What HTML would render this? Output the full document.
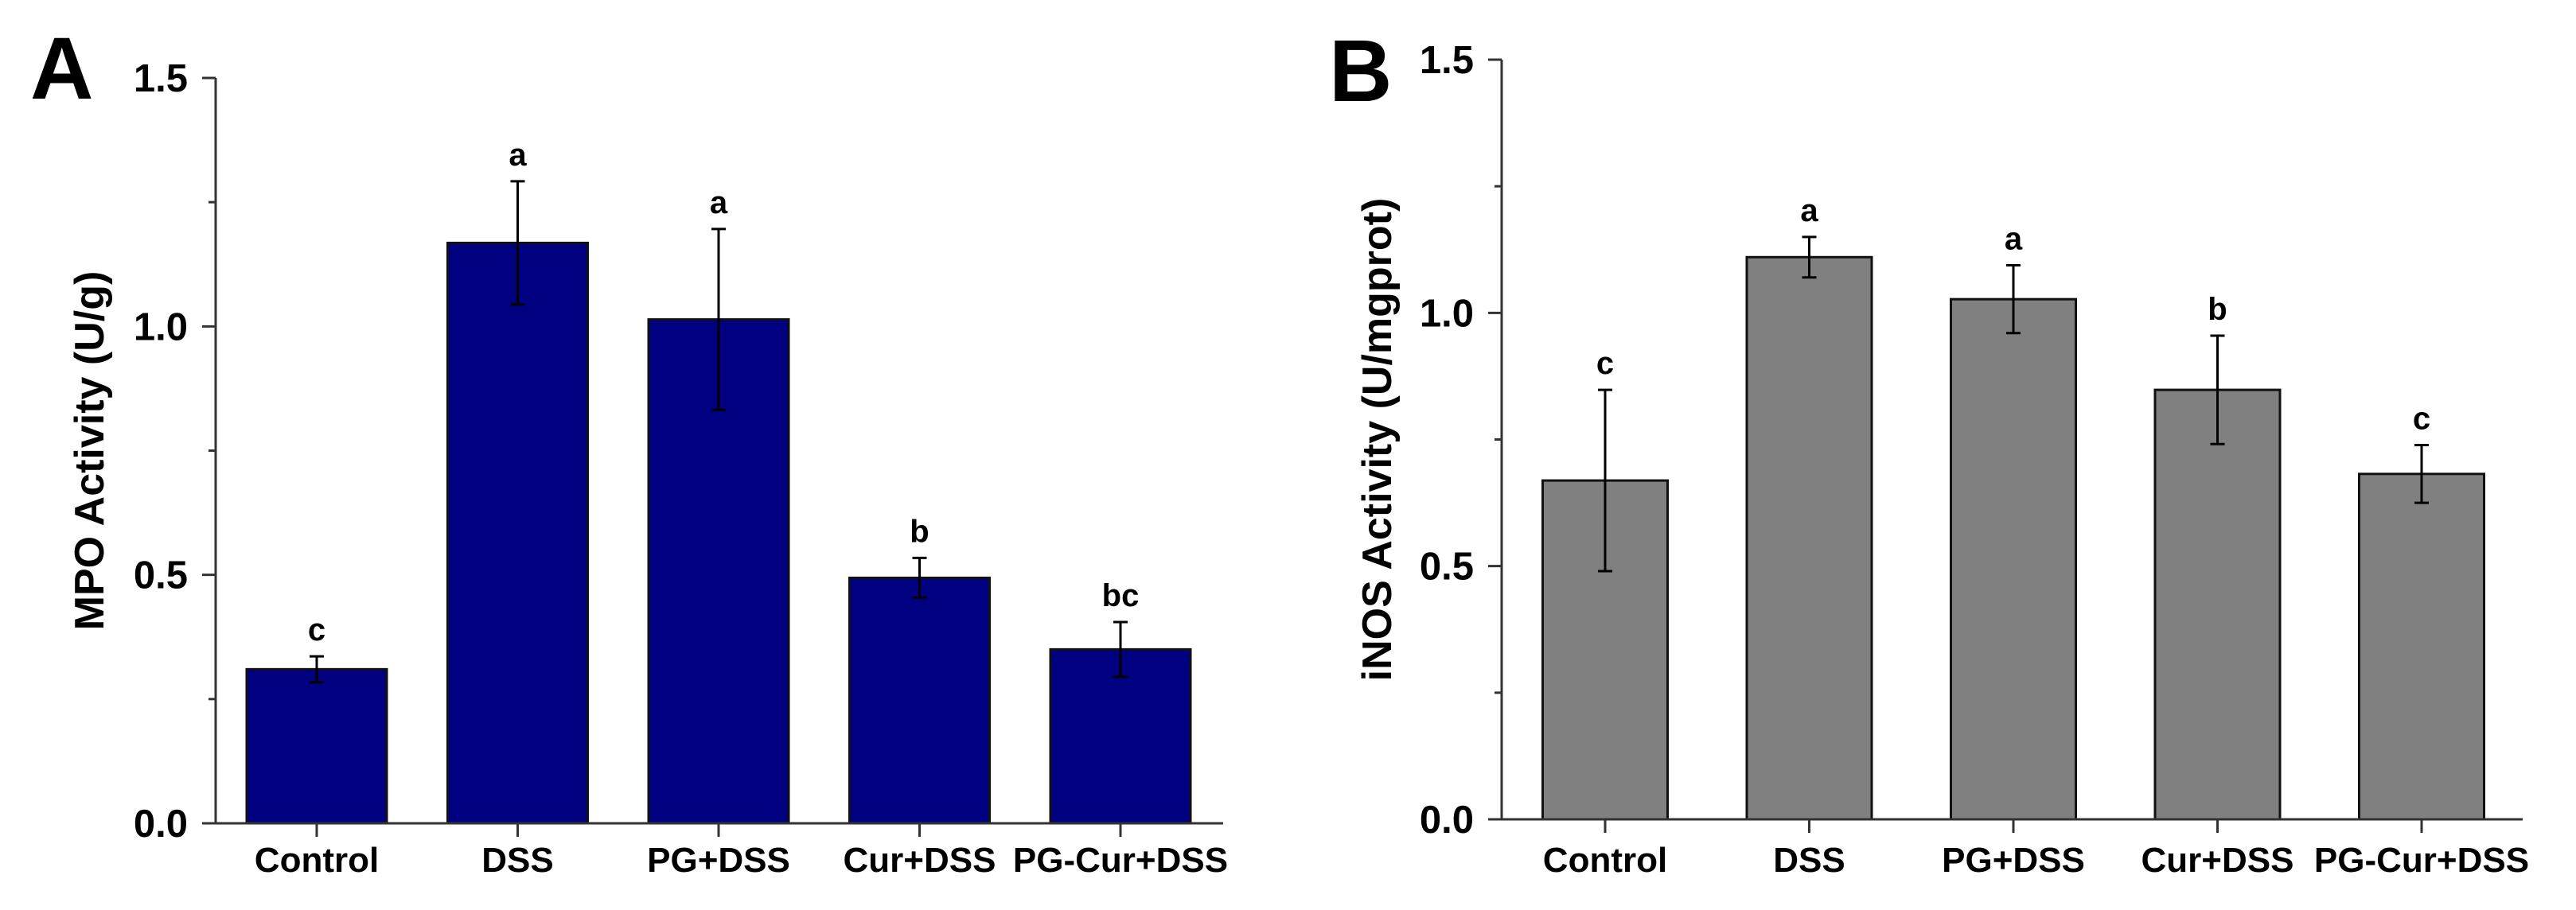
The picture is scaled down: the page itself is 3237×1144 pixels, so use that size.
<!DOCTYPE html>
<html><head><meta charset="utf-8"><style>
html,body{margin:0;padding:0;background:#fff;}
svg{display:block;font-family:"Liberation Sans",Arial,sans-serif;font-weight:bold;}
</style></head><body>
<svg id="chart" width="3237" height="1144" viewBox="0 0 3237 1144" xmlns="http://www.w3.org/2000/svg"></svg>
<script>
const categories = ["Control","DSS","PG+DSS","Cur+DSS","PG-Cur+DSS"];
const mpoValues = [0.31, 1.168, 1.014, 0.494, 0.350];
const mpoErrors = [0.026, 0.124, 0.182, 0.04, 0.055];
const mpoLetters = ["c","a","a","b","bc"];
const inosValues = [0.669, 1.110, 1.027, 0.848, 0.682];
const inosErrors = [0.179, 0.040, 0.067, 0.107, 0.057];
const inosLetters = ["c","a","a","b","c"];
const yTicks = ["0.0","0.5","1.0","1.5"];
const yMinor = [0.25, 0.75, 1.25];

const NS = "http://www.w3.org/2000/svg";
const svg = document.getElementById("chart");
function mk(tag, attrs, parent){
  const e = document.createElementNS(NS, tag);
  for (const k in attrs) e.setAttribute(k, attrs[k]);
  (parent||svg).appendChild(e);
  return e;
}

function panel(cfg){
  const g = mk("g", {});
  
  
  const y = v => cfg.y0 - (v/1.5)*(cfg.y0-cfg.y15);
  const x = i => cfg.c0 + i*cfg.step;
  cfg.values.forEach((v,i)=>{
    const r = mk("rect", {x:x(i)-cfg.bw/2, y:y(v), width:cfg.bw, height:y(0)-y(v), fill:cfg.fill, stroke:"#111", "stroke-width":3}, g);
    
    
  });
  cfg.values.forEach((v,i)=>{
    const e = cfg.errors[i], cx = x(i);
    const eg = mk("g", {stroke:"#000","stroke-width":3}, g);
    
    
    mk("line", {x1:cx, x2:cx, y1:y(v+e), y2:y(v-e)}, eg);
    mk("line", {x1:cx-9, x2:cx+9, y1:y(v+e), y2:y(v+e)}, eg);
    mk("line", {x1:cx-9, x2:cx+9, y1:y(v-e), y2:y(v-e)}, eg);
    const t = mk("text", {x:cx, y:y(v+e)-20, "text-anchor":"middle", "font-size":40}, g);
    t.textContent = cfg.letters[i];
    
    
  });
  const ax = mk("g", {stroke:"#333","stroke-width":3}, g);
  
  
  mk("line", {x1:cfg.ax, x2:cfg.ax, y1:y(1.5), y2:y(0)+1.5}, ax);
  mk("line", {x1:cfg.ax, x2:cfg.axEnd, y1:y(0), y2:y(0)}, ax);
  yTicks.forEach(s=>{
    const v = parseFloat(s);
    mk("line", {x1:cfg.ax-17, x2:cfg.ax, y1:y(v), y2:y(v)}, ax);
    const t = mk("text", {x:cfg.ax-35, y:y(v)+17, "text-anchor":"end", "font-size":49}, g);
    t.textContent = s;
    
    
  });
  yMinor.forEach(v=> mk("line", {x1:cfg.ax-9, x2:cfg.ax, y1:y(v), y2:y(v)}, ax));
  categories.forEach((c,i)=>{
    mk("line", {x1:x(i), x2:x(i), y1:y(0), y2:y(0)+17}, ax);
    const t = mk("text", {x:x(i), y:1096, "text-anchor":"middle", "font-size":44}, g);
    t.textContent = c;
    
    
  });
  const ty = (y(0)+y(1.5))/2;
  const tt = mk("text", {x:cfg.titleX, y:ty, "text-anchor":"middle", "font-size":52, transform:`rotate(-90 ${cfg.titleX} ${ty})`}, g);
  tt.textContent = cfg.title;
  
  
  const pl = mk("text", {x:cfg.labelX, y:cfg.labelY, "font-size":110}, g);
  pl.textContent = cfg.label;
  
  
}

panel({name:"panel-a-mpo", values:mpoValues, errors:mpoErrors, letters:mpoLetters,
  y0:1035, y15:98, ax:271, axEnd:1537, c0:398, step:252.5, bw:176, fill:"#000080",
  title:"MPO Activity (U/g)", titleX:130, label:"A", labelX:38, labelY:124});
panel({name:"panel-b-inos", values:inosValues, errors:inosErrors, letters:inosLetters,
  y0:1030, y15:75, ax:1887, axEnd:3170, c0:2017, step:256.5, bw:157, fill:"#808080",
  title:"iNOS Activity (U/mgprot)", titleX:1748, label:"B", labelX:1670, labelY:127});
</script>
</body></html>
